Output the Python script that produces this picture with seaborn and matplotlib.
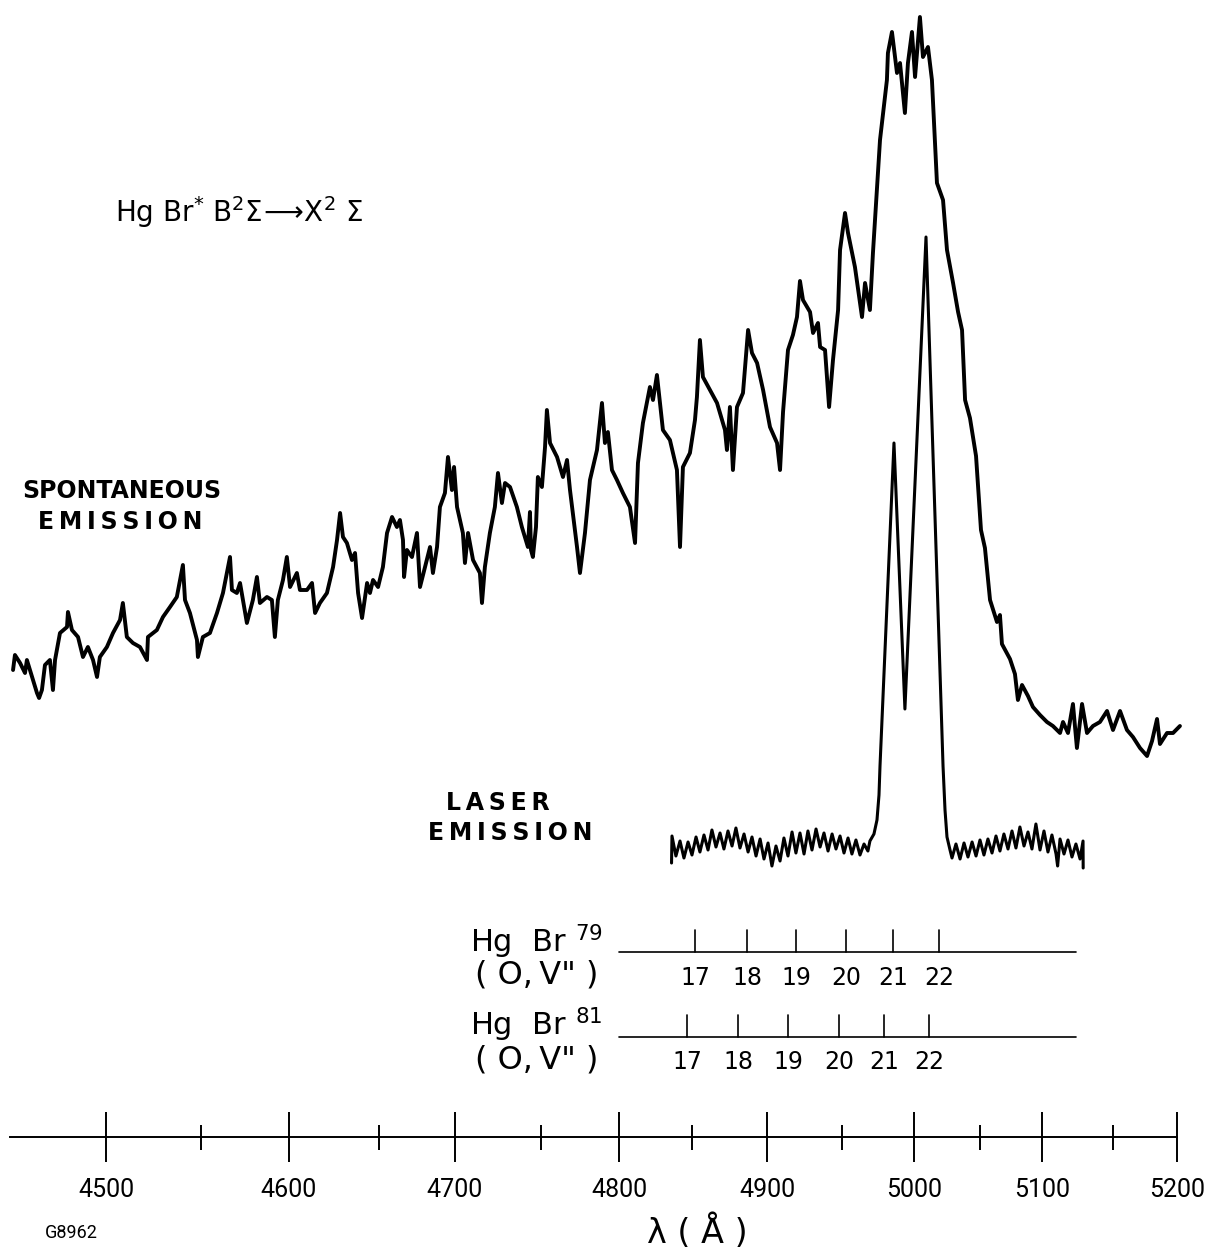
import numpy as np
import pandas as pd
import matplotlib
matplotlib.use("Agg")
import matplotlib.pyplot as plt
import seaborn as sns

# ---------------------------------------------------------------------------
# Data: HgBr* B2Sigma -> X2Sigma emission, intensities in chart divisions
# ---------------------------------------------------------------------------
spont_wl = [
    4451.1, 4452.1, 4454.8, 4457.4, 4458.4, 4461.1, 4463.7, 4464.8, 4466.3, 4467.9,
    4470.5, 4472.1, 4473.2, 4475.8, 4479.5, 4480.0, 4482.1, 4485.3, 4487.9, 4490.5,
    4493.2, 4495.3, 4496.8, 4500.5, 4503.7, 4507.4, 4508.9, 4511.0, 4514.2, 4517.9,
    4521.6, 4522.1, 4526.8, 4530.0, 4533.7, 4537.3, 4540.5, 4541.6, 4544.2, 4547.9,
    4548.4, 4551.1, 4555.1, 4559.1, 4562.5, 4566.5, 4567.6, 4570.4, 4572.2, 4576.1,
    4579.5, 4581.8, 4583.5, 4587.5, 4590.3, 4592.0, 4593.7, 4596.6, 4598.8, 4600.6,
    4604.4, 4606.1, 4610.0, 4612.8, 4614.5, 4617.2, 4621.1, 4624.5, 4626.7, 4628.4,
    4630.0, 4632.2, 4635.0, 4636.7, 4638.4, 4640.6, 4643.4, 4645.0, 4646.7, 4649.5,
    4652.6, 4655.3, 4658.6, 4661.8, 4663.8, 4665.8, 4666.5, 4668.4, 4671.7, 4675.0,
    4677.0, 4680.3, 4683.6, 4685.5, 4688.2, 4690.1, 4693.4, 4695.4, 4698.0, 4699.4,
    4701.2, 4704.6, 4705.8, 4707.6, 4710.5, 4714.5, 4715.7, 4717.4, 4720.3, 4723.2,
    4725.0, 4727.3, 4729.1, 4732.0, 4736.0, 4738.9, 4742.4, 4743.6, 4744.2, 4745.3,
    4747.1, 4748.2, 4750.6, 4752.6, 4753.8, 4755.8, 4760.3, 4764.1, 4766.7, 4768.6,
    4773.1, 4775.0, 4778.2, 4781.4, 4785.9, 4789.1, 4791.0, 4792.9, 4795.5, 4798.7,
    4802.7, 4807.5, 4811.0, 4813.0, 4816.4, 4821.2, 4823.3, 4826.0, 4828.1, 4830.1,
    4834.9, 4839.7, 4841.8, 4843.8, 4848.6, 4852.0, 4853.3, 4855.3, 4857.3, 4862.0,
    4866.7, 4872.0, 4873.3, 4875.3, 4877.3, 4880.0, 4884.0, 4887.4, 4890.0, 4893.4,
    4897.4, 4902.0, 4906.7, 4908.7, 4910.7, 4914.0, 4917.3, 4920.0, 4922.0, 4924.0,
    4928.7, 4930.7, 4934.0, 4935.4, 4938.7, 4941.4, 4944.0, 4947.4, 4948.7, 4952.1,
    4954.2, 4959.0, 4963.9, 4966.0, 4969.4, 4971.5, 4976.4, 4981.2, 4981.9, 4984.7,
    4988.2, 4990.3, 4993.7, 4995.8, 4998.6, 5000.8, 5004.5, 5006.8, 5010.6, 5013.6,
    5017.4, 5022.0, 5025.0, 5029.6, 5033.4, 5036.4, 5038.7, 5042.4, 5047.0, 5050.8,
    5054.0, 5058.1, 5063.7, 5066.1, 5067.7, 5074.2, 5078.2, 5080.6, 5083.9, 5088.7,
    5092.7, 5098.4, 5103.5, 5107.7, 5112.7, 5114.8, 5118.3, 5121.8, 5124.6, 5128.2,
    5131.7, 5135.9, 5140.8, 5145.8, 5150.0, 5155.5, 5160.9, 5165.6, 5171.1, 5176.6,
    5180.5, 5184.4, 5186.7, 5192.2, 5196.9, 5202.3,
]
spont_int = [
    9.0, 10.5, 9.7, 8.7, 10.0, 8.3, 6.7, 6.2, 7.0, 9.5,
    10.0, 7.0, 10.0, 12.7, 13.3, 14.8, 13.0, 12.3, 10.3, 11.3,
    10.0, 8.3, 10.3, 11.3, 12.7, 14.0, 15.7, 12.3, 11.7, 11.3,
    10.0, 12.3, 13.0, 14.3, 15.3, 16.3, 19.5, 16.0, 14.7, 12.0,
    10.3, 12.3, 12.7, 14.7, 16.7, 20.3, 17.0, 16.7, 17.7, 13.7,
    16.0, 18.3, 15.7, 16.3, 16.0, 12.3, 16.0, 18.0, 20.3, 17.3,
    18.7, 17.0, 17.0, 17.7, 14.7, 15.7, 16.7, 19.3, 22.0, 24.7,
    22.3, 21.7, 20.0, 20.7, 16.7, 14.2, 17.7, 16.7, 18.0, 17.3,
    19.3, 22.7, 24.3, 23.3, 24.0, 22.0, 18.3, 21.0, 20.3, 22.7,
    17.3, 19.3, 21.3, 18.7, 21.3, 25.3, 26.7, 30.3, 27.0, 29.3,
    25.3, 22.7, 19.7, 22.7, 20.0, 18.7, 15.7, 19.3, 22.7, 25.3,
    28.7, 25.7, 27.7, 27.3, 25.3, 23.3, 21.3, 24.8, 21.0, 20.3,
    23.3, 28.3, 27.3, 31.3, 35.0, 31.7, 30.3, 28.3, 30.0, 27.0,
    21.3, 18.7, 22.7, 28.0, 31.0, 35.7, 31.7, 32.8, 29.0, 28.0,
    26.7, 25.3, 21.7, 29.7, 33.7, 37.3, 36.0, 38.5, 35.7, 33.0,
    32.0, 29.0, 21.3, 29.3, 30.7, 34.0, 36.3, 42.0, 38.3, 37.0,
    35.7, 33.0, 31.0, 35.3, 29.0, 35.3, 36.7, 43.0, 40.7, 39.7,
    37.0, 33.3, 31.7, 29.0, 34.8, 41.0, 42.5, 44.3, 47.9, 46.0,
    44.8, 42.7, 43.7, 41.3, 41.0, 35.3, 40.0, 45.0, 51.0, 54.7,
    52.7, 49.3, 44.3, 47.7, 45.0, 50.7, 62.0, 68.0, 70.7, 72.8,
    68.7, 69.7, 64.7, 69.7, 72.8, 68.3, 74.3, 70.3, 71.3, 68.0,
    57.7, 56.0, 51.0, 47.7, 44.8, 43.0, 36.0, 34.2, 30.4, 23.0,
    21.2, 16.0, 13.8, 14.5, 11.6, 10.1, 8.6, 6.0, 7.5, 6.4,
    5.3, 4.5, 3.8, 3.4, 2.7, 3.8, 2.7, 5.6, 1.2, 5.6,
    2.7, 3.4, 3.8, 4.9, 3.0, 4.9, 3.0, 2.3, 1.2, 0.4,
    1.9, 4.1, 1.6, 2.7, 2.7, 3.4,
]

laser_wl = [
    4836.0, 4836.3, 4839.0, 4841.8, 4844.5, 4847.3, 4850.0, 4852.7, 4855.3, 4858.0,
    4860.7, 4863.3, 4866.0, 4868.7, 4871.3, 4874.0, 4876.7, 4879.3, 4882.0, 4884.7,
    4887.4, 4890.0, 4892.7, 4895.4, 4898.0, 4900.7, 4903.3, 4906.0, 4908.7, 4911.3,
    4914.0, 4916.7, 4919.3, 4922.0, 4924.7, 4927.3, 4930.0, 4932.7, 4935.4, 4938.0,
    4940.7, 4943.4, 4946.0, 4948.7, 4951.4, 4954.2, 4956.9, 4959.7, 4962.5, 4965.3,
    4968.0, 4969.4, 4972.2, 4974.3, 4975.7, 4976.4, 4986.1, 4993.7, 5009.1, 5022.0,
    5023.5, 5025.0, 5027.3, 5028.8, 5031.8, 5034.9, 5037.9, 5040.9, 5044.0, 5047.0,
    5050.0, 5053.2, 5056.4, 5059.7, 5062.9, 5066.1, 5069.3, 5072.6, 5075.8, 5079.0,
    5082.2, 5085.5, 5088.7, 5091.9, 5095.1, 5098.4, 5101.4, 5104.2, 5107.0, 5109.9,
    5111.0, 5112.7, 5115.5, 5118.3, 5121.1, 5123.9, 5126.8, 5128.9, 5129.0,
]
laser_int = [
    -0.3, 2.4, 0.4, 1.9, 0.2, 1.8, 0.5, 2.3, 0.8, 2.5,
    1.0, 3.0, 1.3, 2.7, 1.1, 2.9, 1.4, 3.2, 1.2, 2.6,
    0.8, 2.3, 0.4, 2.1, 0.1, 1.7, -0.6, 1.4, -0.1, 2.2,
    0.4, 2.8, 0.7, 2.7, 0.6, 2.9, 1.0, 3.1, 1.3, 2.7,
    0.9, 2.6, 1.1, 2.4, 0.7, 2.2, 0.6, 2.0, 0.5, 1.6,
    0.9, 1.9, 2.6, 4.0, 6.5, 9.4, 41.7, 15.1, 62.3, 9.4,
    5.0, 2.3, 1.0, 0.2, 1.6, 0.1, 1.7, 0.3, 1.8, 0.4,
    2.0, 0.5, 2.1, 0.7, 2.4, 0.9, 2.6, 1.1, 2.9, 1.2,
    3.3, 1.4, 2.8, 1.1, 3.6, 1.0, 2.9, 0.8, 2.5, 0.6,
    -0.6, 2.1, 0.6, 2.0, 0.3, 1.6, 0.1, 1.9, -0.8,
]

# (0, v'') band heads for the two bromine isotopes
band_v = [17, 18, 19, 20, 21, 22]
band79_wl = [4852.0, 4886.7, 4919.3, 4952.8, 4985.4, 5018.9]
band81_wl = [4846.6, 4880.7, 4914.0, 4948.0, 4979.2, 5011.4]
band_line_span = (4800.0, 5124.0)

major_ticks = [4500, 4600, 4700, 4800, 4900, 5000, 5100, 5200]
minor_ticks = [4550, 4650, 4750, 4850, 4950, 5050, 5150]

# ---------------------------------------------------------------------------
# Wavelength scale of the chart recorder (non-linear dial calibration)
# ---------------------------------------------------------------------------
cal_wl = np.array([4500, 4550, 4600, 4650, 4700, 4750, 4800, 4850, 4900,
                   4950, 5000, 5050, 5100, 5150, 5200], dtype=float)
cal_pos = np.array([106, 201, 289, 379, 455, 541, 619, 692, 767,
                    842, 914, 980, 1042, 1113, 1177], dtype=float)
_s_lo = (cal_pos[1] - cal_pos[0]) / (cal_wl[1] - cal_wl[0])
_s_hi = (cal_pos[-1] - cal_pos[-2]) / (cal_wl[-1] - cal_wl[-2])


def wl_to_chart(w):
    w = np.asarray(w, dtype=float)
    p = np.interp(w, cal_wl, cal_pos)
    p = np.where(w < cal_wl[0], cal_pos[0] + (w - cal_wl[0]) * _s_lo, p)
    p = np.where(w > cal_wl[-1], cal_pos[-1] + (w - cal_wl[-1]) * _s_hi, p)
    return p


def chart_to_wl(p):
    p = np.asarray(p, dtype=float)
    w = np.interp(p, cal_pos, cal_wl)
    w = np.where(p < cal_pos[0], cal_wl[0] + (p - cal_pos[0]) / _s_lo, w)
    w = np.where(p > cal_pos[-1], cal_wl[-1] + (p - cal_pos[-1]) / _s_hi, w)
    return w


# ---------------------------------------------------------------------------
# Figure
# ---------------------------------------------------------------------------
sns.set_theme(style="white")
plt.rcParams["font.family"] = ["Roboto", "DejaVu Sans"]
plt.rcParams["text.color"] = "black"
plt.rcParams["xtick.color"] = "black"

W, H = 1220, 1253
fig = plt.figure(figsize=(W / 100, H / 100), dpi=100)
fig.patch.set_facecolor("white")

ax = fig.add_axes([10 / W, 1 - 1137 / H, 1167 / W, 1137 / H])
ax.set_facecolor("none")
ax.set_xscale("function", functions=(wl_to_chart, chart_to_wl))
ax.set_xlim(4449.5, 5200)
ax.set_ylim(-37.7, 76.0)

laser_offset = -10.0
spont = pd.DataFrame({"wl": spont_wl, "I": spont_int})
laser = pd.DataFrame({"wl": laser_wl, "I": np.array(laser_int) + laser_offset})

sns.lineplot(data=spont, x="wl", y="I", ax=ax, color="black", lw=2.8,
             sort=False, estimator=None, legend=False, clip_on=False)
sns.lineplot(data=laser, x="wl", y="I", ax=ax, color="black", lw=2.2,
             sort=False, estimator=None, legend=False, clip_on=False)

# isotope band markers
rows = [(band79_wl, -19.2, -21.8), (band81_wl, -27.7, -30.2)]
for wl, y0, ylab in rows:
    ax.plot(band_line_span, [y0, y0], color="black", lw=1.2, clip_on=False)
    for v, w in zip(band_v, wl):
        ax.plot([w, w], [y0, y0 + 2.2], color="black", lw=1.2, clip_on=False)
        ax.text(w, ylab, str(v), ha="center", va="center", fontsize=17,
                color="black", family="DejaVu Sans")

# axis styling
for side in ("top", "left", "right"):
    ax.spines[side].set_visible(False)
ax.spines["bottom"].set_linewidth(1.4)
ax.spines["bottom"].set_color("black")
ax.set_yticks([])
ax.set_xticks(major_ticks)
ax.set_xticklabels([str(t) for t in major_ticks])
ax.set_xticks(minor_ticks, minor=True)
ax.tick_params(axis="x", which="major", direction="inout", length=36, width=1.4,
               pad=11.5, labelsize=18, color="black", labelcolor="black",
               bottom=True)
ax.tick_params(axis="x", which="minor", direction="inout", length=18, width=1.4,
               color="black", bottom=True)
ax.set_xlabel("")
ax.set_ylabel("")

thin = "\u2009"
# annotations
fig.text(115 / W, 1 - 212 / H,
         r"Hg Br$^{*}$ B$^{2}\Sigma\!\longrightarrow\!$X$^{2}$ $\Sigma$",
         ha="left", va="center", fontsize=20, family="DejaVu Sans")
fig.text(122 / W, 1 - 491 / H, "SPONTANEOUS", ha="center", va="center",
         fontsize=17, fontweight="bold", family="DejaVu Sans")
fig.text(120 / W, 1 - 522 / H, thin.join("EMISSION"),
         ha="center", va="center", fontsize=17, fontweight="bold",
         family="DejaVu Sans")
fig.text(498 / W, 1 - 803 / H, thin.join("LASER"),
         ha="center", va="center", fontsize=17, fontweight="bold",
         family="DejaVu Sans")
fig.text(510 / W, 1 - 833 / H, thin.join("EMISSION"),
         ha="center", va="center", fontsize=17, fontweight="bold",
         family="DejaVu Sans")

paren = "( O," + thin + 'V" )'
fig.text(470 / W, 1 - 942 / H, r"Hg  Br $^{79}$", ha="left", va="center",
         fontsize=22, family="DejaVu Sans")
fig.text(475 / W, 1 - 975 / H, paren, ha="left", va="center", fontsize=23,
         family="DejaVu Sans")
fig.text(470 / W, 1 - 1025 / H, r"Hg  Br $^{81}$", ha="left", va="center",
         fontsize=22, family="DejaVu Sans")
fig.text(475 / W, 1 - 1060 / H, paren, ha="left", va="center", fontsize=23,
         family="DejaVu Sans")

fig.text(45 / W, 1 - 1233 / H, "G8962", ha="left", va="center", fontsize=13)
fig.text(697 / W, 1 - 1232 / H, "λ ( Å )", ha="center", va="center",
         fontsize=24, family="DejaVu Sans")

fig.savefig("out.png", dpi=100, facecolor="white")
